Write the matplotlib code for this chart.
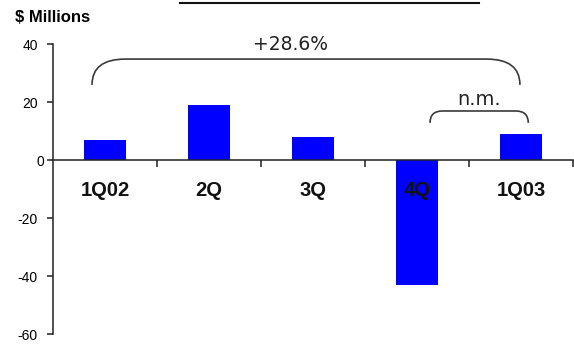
import matplotlib
matplotlib.use("Agg")
import matplotlib.pyplot as plt
import matplotlib.transforms as mtransforms
from matplotlib.path import Path
from matplotlib.patches import PathPatch
from matplotlib.lines import Line2D
import numpy as np

# quarterly net income, $ millions
quarters = ["1Q02", "2Q", "3Q", "4Q", "1Q03"]
income = [7.0, 19.0, 7.9, -43.0, 9.0]
yticks = [-60, -40, -20, 0, 20, 40]
growth_label = "+28.6%"
qoq_label = "n.m."

plt.rcParams['font.family'] = ['Liberation Sans', 'DejaVu Sans']

fig = plt.figure(figsize=(5.74, 3.47), dpi=100)
ax = fig.add_axes([53 / 574, 13 / 347, 520 / 574, 290 / 347])

x = np.arange(len(quarters))
ax.bar(x, income, 0.41, color='#0000ff', zorder=2)

ax.set_xlim(-0.5, len(quarters) - 0.5)
ax.set_ylim(-60, 40)

# axes: left spine plus a zero line with category dividers
ax.spines['top'].set_visible(False)
ax.spines['right'].set_visible(False)
ax.spines['bottom'].set_position(('data', 0))
ax.spines['bottom'].set_zorder(3)
for s in ['left', 'bottom']:
    ax.spines[s].set_linewidth(1.1)
    ax.spines[s].set_color('#222222')

ax.set_xticks(x + 0.5)
ax.tick_params(axis='x', direction='out', length=5, width=1.1, color='#222222', labelbottom=False)
ax.set_yticks(yticks)
ax.set_yticklabels([str(v) for v in yticks])
ax.tick_params(axis='y', direction='out', length=4, width=1.1, color='#222222', labelsize=10, pad=7)
for lbl in ax.get_yticklabels():
    if lbl.get_text() == "0":
        lbl.set_transform(lbl.get_transform() + mtransforms.ScaledTranslation(7 / 100, 0, fig.dpi_scale_trans))

# category labels sit just under the zero line
for i, q in enumerate(quarters):
    ax.text(i, -10.5, q, ha='center', va='center', fontsize=14.5, fontweight='bold', color='#111111', zorder=4)

fig.text(15 / 574, 1 - 17 / 347, "$ Millions", ha='left', va='center', fontsize=12, fontweight='bold')


def bracket(x0, x1, y_end, y_top, r):
    verts = [(x0, y_end), (x0, y_top), (x0 + r, y_top),
             (x1 - r, y_top),
             (x1, y_top), (x1, y_end)]
    codes = [Path.MOVETO, Path.CURVE3, Path.CURVE3,
             Path.LINETO,
             Path.CURVE3, Path.CURVE3]
    ax.add_patch(PathPatch(Path(verts, codes), fill=False, lw=1.2, edgecolor='#3a3a3a', zorder=3))


# growth bracket across the year and the quarter-over-quarter bracket
bracket(-0.125, 3.99, 25.9, 34.8, 0.32)
ax.text(1.78, 36.5, growth_label, ha='center', va='bottom', fontsize=13.5,
        family=['DejaVu Sans'], color='#222222')
bracket(3.125, 4.07, 12.8, 16.9, 0.12)
ax.text(3.6, 17.5, qoq_label, ha='center', va='bottom', fontsize=14,
        family=['DejaVu Sans'], color='#222222')

# rule along the top edge
fig.add_artist(Line2D([180 / 574, 479 / 574], [1 - 3 / 347, 1 - 3 / 347], color='#111111', lw=1.5))

fig.savefig("out.png", dpi=100)
